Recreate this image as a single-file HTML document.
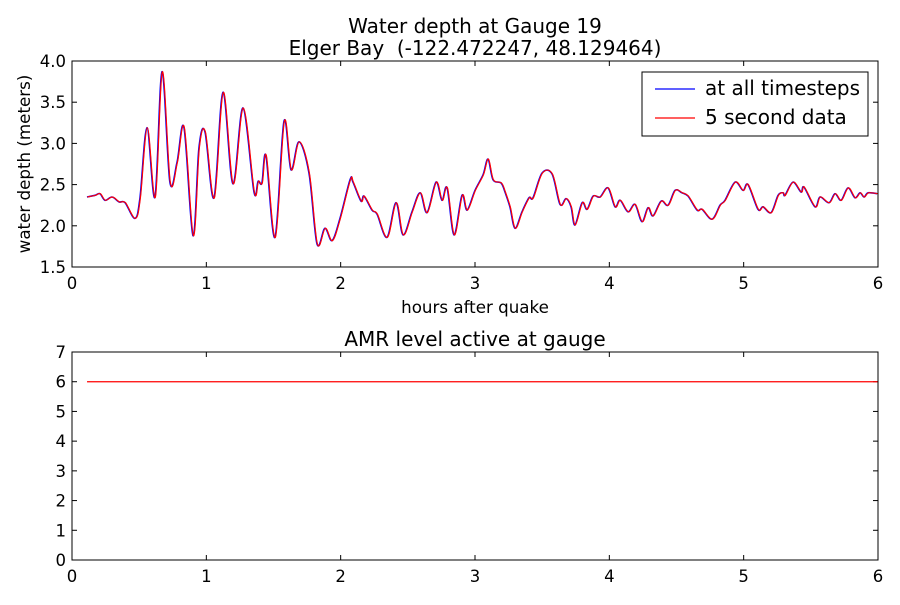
<!DOCTYPE html>
<html><head><meta charset="utf-8"><style>
body{margin:0;background:#fff}
svg text{font-family:"DejaVu Sans","Liberation Sans",sans-serif;fill:#000}
</style></head><body>
<svg id="chart" width="900" height="600" xmlns="http://www.w3.org/2000/svg">
<rect width="900" height="600" fill="#fff"/>
<g id="top"></g>
<g id="bot"></g>
<text x="475" y="33" font-size="20" text-anchor="middle">Water depth at Gauge 19</text>
<text x="475" y="55" font-size="20" text-anchor="middle">Elger Bay &#160;(-122.472247, 48.129464)</text>
<text x="475" y="313" font-size="16.7" text-anchor="middle">hours after quake</text>
<text x="30" y="164" font-size="16.7" text-anchor="middle" transform="rotate(-90 30 164)">water depth (meters)</text>
<text x="475" y="346" font-size="20" text-anchor="middle">AMR level active at gauge</text>
<g>
<rect x="642" y="72" width="226" height="64" fill="#fff" stroke="#000" stroke-width="1"/>
<line x1="655" y1="89" x2="695" y2="89" stroke="#0000ff" stroke-width="1.2"/>
<text x="705" y="95" font-size="20">at all timesteps</text>
<line x1="655" y1="118" x2="695" y2="118" stroke="#ff0000" stroke-width="1.2"/>
<text x="705" y="124" font-size="20">5 second data</text>
</g>
</svg>
<script>
const times=[0.112,0.171,0.208,0.246,0.298,0.350,0.395,0.469,0.506,0.558,0.618,0.670,0.729,0.782,0.834,0.901,0.945,0.990,1.057,1.124,1.198,1.273,1.355,1.385,1.414,1.444,1.511,1.578,1.630,1.690,1.764,1.824,1.883,1.936,1.995,2.070,2.092,2.151,2.174,2.233,2.271,2.345,2.412,2.464,2.531,2.591,2.643,2.710,2.754,2.792,2.844,2.903,2.941,3.000,3.060,3.097,3.134,3.194,3.223,3.260,3.298,3.350,3.402,3.432,3.499,3.573,3.633,3.678,3.715,3.744,3.797,3.834,3.879,3.931,3.990,4.042,4.080,4.139,4.191,4.243,4.288,4.325,4.385,4.437,4.489,4.541,4.586,4.653,4.690,4.764,4.824,4.861,4.936,4.995,5.032,5.107,5.144,5.204,5.256,5.293,5.308,5.367,5.427,5.449,5.531,5.568,5.635,5.680,5.725,5.777,5.829,5.866,5.896,5.926,5.993];
const depths=[2.35,2.37,2.39,2.31,2.35,2.29,2.28,2.09,2.34,3.19,2.35,3.87,2.53,2.77,3.19,1.88,2.94,3.14,2.34,3.62,2.51,3.43,2.41,2.54,2.52,2.85,1.86,3.27,2.68,3.02,2.64,1.78,1.97,1.82,2.09,2.56,2.53,2.30,2.36,2.19,2.14,1.86,2.28,1.89,2.17,2.40,2.16,2.53,2.31,2.46,1.89,2.37,2.19,2.43,2.62,2.81,2.56,2.52,2.41,2.23,1.97,2.17,2.34,2.34,2.64,2.63,2.26,2.33,2.23,2.01,2.28,2.20,2.36,2.35,2.46,2.23,2.31,2.17,2.26,2.05,2.22,2.12,2.30,2.25,2.43,2.40,2.36,2.19,2.20,2.08,2.25,2.31,2.53,2.43,2.50,2.20,2.23,2.16,2.37,2.40,2.37,2.53,2.41,2.47,2.23,2.35,2.28,2.39,2.31,2.46,2.34,2.40,2.35,2.40,2.39];
const amrTimes=[0.112,6.0];
const amrLevels=[6,6];
const xTicks=[0,1,2,3,4,5,6];
const yTicksTop=[1.5,2.0,2.5,3.0,3.5,4.0];
const yTicksBot=[0,1,2,3,4,5,6,7];

const NS="http://www.w3.org/2000/svg";
function mk(tag,attrs,parent){const e=document.createElementNS(NS,tag);for(const k in attrs)e.setAttribute(k,attrs[k]);parent.appendChild(e);return e;}
const X0=72,X1=878;
const xs=t=>X0+(t-0)/6*(X1-X0);
function panel(g,top,bottom,ymin,ymax,yticks,fmt){
  const ys=v=>bottom-(v-ymin)/(ymax-ymin)*(bottom-top);
  yticks.forEach(v=>{
    const y=ys(v);
    const l1=mk('line',{x1:X0,y1:y,x2:X0+5,y2:y,stroke:'#000'},g);
    
    
    mk('line',{x1:X1,y1:y,x2:X1-5,y2:y,stroke:'#000'},g);
    const t=mk('text',{x:X0-6,y:y+6,'font-size':16.5,'text-anchor':'end'},g);
    
    
    t.textContent=fmt(v);
  });
  xTicks.forEach(v=>{
    const x=xs(v);
    const l=mk('line',{x1:x,y1:bottom,x2:x,y2:bottom-5,stroke:'#000'},g);
    
    
    mk('line',{x1:x,y1:top,x2:x,y2:top+5,stroke:'#000'},g);
    const t=mk('text',{x:x,y:bottom+22,'font-size':16.5,'text-anchor':'middle'},g);
    
    
    t.textContent=v;
  });
  return ys;
}
function smoothPath(px){
  let d='M'+px[0][0].toFixed(1)+' '+px[0][1].toFixed(1);
  for(let i=0;i<px.length-1;i++){
    const p0=px[Math.max(0,i-1)],p1=px[i],p2=px[i+1],p3=px[Math.min(px.length-1,i+2)];
    const c1=[p1[0]+(p2[0]-p0[0])/6,p1[1]+(p2[1]-p0[1])/6];
    const c2=[p2[0]-(p3[0]-p1[0])/6,p2[1]-(p3[1]-p1[1])/6];
    d+=' C'+c1[0].toFixed(1)+' '+c1[1].toFixed(1)+' '+c2[0].toFixed(1)+' '+c2[1].toFixed(1)+' '+p2[0].toFixed(1)+' '+p2[1].toFixed(1);
  }
  return d;
}
const gt=document.getElementById('top');
const ysT=panel(gt,61,267,1.5,4.0,yTicksTop,v=>v.toFixed(1));
const pts=times.map((t,i)=>[xs(t),ysT(depths[i])]);
const pb=mk('path',{d:smoothPath(pts),fill:'none',stroke:'#0000ff','stroke-width':1.6},gt);


const pr=mk('path',{d:smoothPath(pts),fill:'none',stroke:'#ff0000','stroke-width':1.2,transform:'translate(0.4,0)'},gt);


const f1=mk('rect',{x:X0,y:61,width:X1-X0,height:206,fill:'none',stroke:'#000'},gt);



const gb=document.getElementById('bot');
const ysB=panel(gb,352,560,0,7,yTicksBot,v=>v);
const ap=mk('polyline',{points:amrTimes.map((t,i)=>xs(t)+','+ysB(amrLevels[i])).join(' '),fill:'none',stroke:'#ff0000','stroke-width':1.2},gb);


const f2=mk('rect',{x:X0,y:352,width:X1-X0,height:208,fill:'none',stroke:'#000'},gb);


</script>
</body></html>
